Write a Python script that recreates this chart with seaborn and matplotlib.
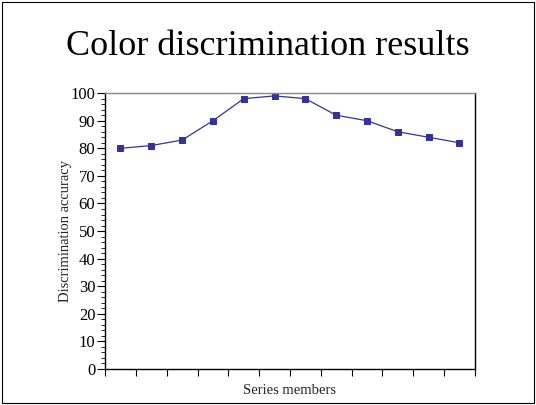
import numpy as np
import pandas as pd
import seaborn as sns
import matplotlib
matplotlib.use('Agg')
import matplotlib.pyplot as plt
from matplotlib.ticker import MultipleLocator, NullFormatter
from matplotlib.patches import Rectangle

# Data
members = np.arange(12) + 0.5
accuracy = [80, 81, 83, 90, 98, 99, 98, 92, 90, 86, 84, 82]

df = pd.DataFrame({'member': members, 'accuracy': accuracy})

sns.set_style('ticks')
plt.rcParams['font.family'] = ['Liberation Serif', 'DejaVu Serif']
plt.rcParams['text.color'] = 'black'
plt.rcParams['axes.labelcolor'] = '#222222'
plt.rcParams['xtick.color'] = 'black'
plt.rcParams['ytick.color'] = 'black'

fig = plt.figure(figsize=(5.36, 4.05), dpi=100)
ax = fig.add_axes([0.196, 0.089, 0.690, 0.681])

sns.lineplot(data=df, x='member', y='accuracy', ax=ax, color='#333399',
             marker='s', markersize=5, markeredgecolor='#333399', linewidth=0.9)

ax.set_xlim(0, 12)
ax.set_ylim(0, 100)
ax.xaxis.set_major_locator(MultipleLocator(1))
ax.xaxis.set_major_formatter(NullFormatter())
ax.yaxis.set_major_locator(MultipleLocator(10))
ax.yaxis.set_minor_locator(MultipleLocator(2))
ax.tick_params(axis='y', which='major', length=6, width=0.8, labelsize=12, pad=1)
ax.tick_params(axis='y', which='minor', length=3, width=0.6)
ax.tick_params(axis='x', which='major', length=5, width=0.8)
for s in ax.spines.values():
    s.set_visible(True)
    s.set_linewidth(1)
    s.set_color('black')
ax.spines['top'].set_color('#888888')

ax.set_xlabel('Series members', fontsize=10.5, labelpad=2)
ax.set_ylabel('Discrimination accuracy', fontsize=10.5)
ax.yaxis.set_label_coords(-0.089, 0.5)

fig.text(0.5, 0.886, 'Color discrimination results', ha='center', va='center', fontsize=26)

fig.patches.append(Rectangle((0.004, 0.004), 0.992, 0.992, transform=fig.transFigure,
                             fill=False, edgecolor='black', linewidth=0.8))

fig.savefig('out.png', dpi=100)
